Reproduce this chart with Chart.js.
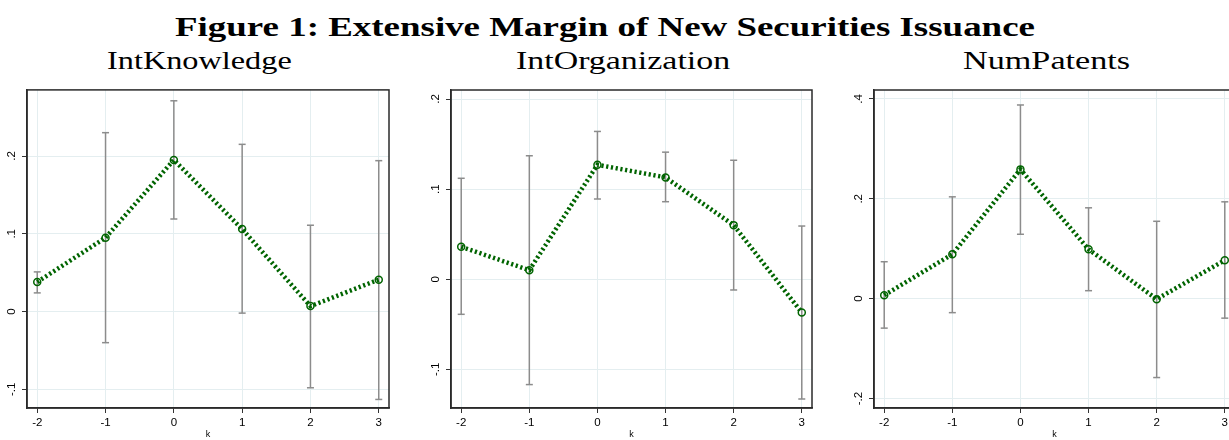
<!DOCTYPE html>
<html>
<head>
<meta charset="utf-8">
<script src="https://cdn.jsdelivr.net/npm/chart.js@4"></script>
<style>
body { margin:0; width:1229px; height:440px; overflow:hidden; background:#fff; position:relative; }
.t { position:absolute; font-family:"Liberation Serif", serif; color:#000; white-space:nowrap; line-height:1; transform-origin:center top; }
canvas { position:absolute; }
</style>
</head>
<body>
<div id="title" class="t" style="top:13px; font-size:28px; font-weight:bold;">Figure 1: Extensive Margin of New Securities Issuance</div>
<div id="sub1" class="t" style="top:48px; font-size:26px;">IntKnowledge</div>
<div id="sub2" class="t" style="top:48px; font-size:26px;">IntOrganization</div>
<div id="sub3" class="t" style="top:48px; font-size:26px;">NumPatents</div>
<canvas id="c1" width="400" height="360" style="left:0px; top:80px;"></canvas>
<canvas id="c2" width="410" height="360" style="left:415px; top:80px;"></canvas>
<canvas id="c3" width="410" height="360" style="left:835px; top:80px;"></canvas>
<script>
// event time k
const kValues = [-2, -1, 0, 1, 2, 3];

// IntKnowledge
const knowCoef = [0.038, 0.095, 0.195, 0.106, 0.007, 0.041];
const knowLow  = [0.024, -0.040, 0.119, -0.002, -0.098, -0.113];
const knowHigh = [0.051, 0.230, 0.271, 0.215, 0.111, 0.194];

// IntOrganization
const orgCoef = [0.036, 0.010, 0.127, 0.113, 0.060, -0.037];
const orgLow  = [-0.039, -0.117, 0.089, 0.086, -0.012, -0.133];
const orgHigh = [0.112, 0.137, 0.164, 0.141, 0.132, 0.059];

// NumPatents
const patCoef = [0.007, 0.089, 0.259, 0.099, -0.001, 0.077];
const patLow  = [-0.059, -0.028, 0.129, 0.016, -0.158, -0.039];
const patHigh = [0.074, 0.204, 0.388, 0.182, 0.155, 0.194];

// stata style labels: .2 instead of 0.2
function fmt(v) {
    const s = String(parseFloat(v.toFixed(2)));
    return s.replace('0.', '.');
}

function fitText(id, cx, w) {
    const el = document.getElementById(id);
    const ow = el.offsetWidth;
    el.style.left = (cx - ow / 2) + 'px';
    el.style.transform = 'scaleX(' + (w / ow) + ')';
}
fitText('title', 605, 860);
fitText('sub1', 199, 185);
fitText('sub2', 623, 214);
fitText('sub3', 1046, 167);

const frame = {
    id: 'frame',
    afterDraw(chart) {
        const a = chart.chartArea, ctx = chart.ctx;
        ctx.save();
        ctx.strokeStyle = '#2a2a2a';
        ctx.lineWidth = 1.5;
        ctx.strokeRect(a.left, a.top, a.right - a.left, a.bottom - a.top);
        ctx.restore();
    }
};

function makePanel(id, coef, lo, hi, yMin, yMax, yStep, yWidth, padTop, padRight) {
    const bars = [];
    kValues.forEach(function (k, i) {
        bars.push({x: k, y: lo[i]}, {x: k, y: hi[i]}, {x: k, y: null});
    });
    new Chart(document.getElementById(id), {
        type: 'line',
        data: {
            datasets: [
                {
                    data: kValues.map(function (k, i) { return {x: k, y: coef[i]}; }),
                    borderColor: '#006400',
                    borderWidth: 4.5,
                    borderDash: [2.2, 2.6],
                    pointStyle: 'circle',
                    pointRadius: 3.5,
                    pointBorderWidth: 1.5,
                    pointBorderColor: '#006400',
                    pointBackgroundColor: 'rgba(0,0,0,0)',
                    tension: 0
                },
                {
                    data: bars,
                    borderColor: '#8c8c8c',
                    borderWidth: 1.5,
                    pointStyle: 'line',
                    pointRadius: 3.5,
                    pointBorderWidth: 1.5,
                    pointBorderColor: '#8c8c8c',
                    spanGaps: false
                }
            ]
        },
        options: {
            responsive: false,
            animation: false,
            layout: { padding: { top: padTop, right: padRight, left: 0, bottom: 0 } },
            plugins: { legend: { display: false }, tooltip: { enabled: false } },
            scales: {
                x: {
                    type: 'linear',
                    min: -2.15,
                    max: 3.15,
                    afterFit: function (s) { s.height = 32; },
                    ticks: { stepSize: 1, includeBounds: false, maxRotation: 0, color: '#000', padding: 3,
                             font: { family: 'Liberation Sans', size: 11.5 } },
                    grid: { color: '#e4eef0', tickColor: '#333', tickLength: 5, lineWidth: 1 },
                    border: { display: true, color: '#2a2a2a', width: 1.5 },
                    title: { display: true, text: 'k', color: '#000', padding: 0,
                             font: { family: 'Liberation Sans', size: 9 } }
                },
                y: {
                    type: 'linear',
                    min: yMin,
                    max: yMax,
                    afterFit: function (s) { s.width = yWidth; },
                    ticks: { stepSize: yStep, includeBounds: false, minRotation: 90, maxRotation: 90,
                             crossAlign: 'center', padding: 3, color: '#000', callback: fmt,
                             font: { family: 'Liberation Sans', size: 11.5 } },
                    grid: { color: '#e4eef0', tickColor: '#333', tickLength: 5, lineWidth: 1 },
                    border: { display: true, color: '#2a2a2a', width: 1.5 }
                }
            }
        },
        plugins: [frame]
    });
}

makePanel('c1', knowCoef, knowLow, knowHigh, -0.124, 0.285, 0.1, 27, 9, 11);
makePanel('c2', orgCoef, orgLow, orgHigh, -0.143, 0.210, 0.1, 36, 10, 13);
makePanel('c3', patCoef, patLow, patHigh, -0.219, 0.418, 0.2, 39, 10, 10);
</script>
</body>
</html>
